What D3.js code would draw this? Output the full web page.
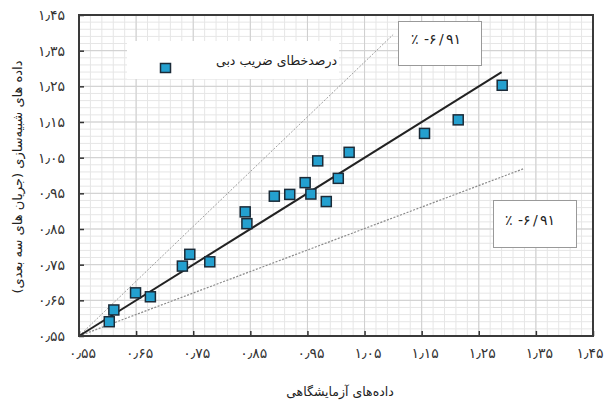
<!DOCTYPE html>
<html><head><meta charset="utf-8">
<script src="https://cdn.jsdelivr.net/npm/d3@7"></script>
<style>
body{margin:0;background:#fff;}
svg{display:block;}
text{font-family:"DejaVu Sans",sans-serif;}
</style></head>
<body><svg id="c" width="608" height="405"></svg>
<script>
// ---- data ----
const labData = [0.603,0.611,0.649,0.675,0.731,0.744,0.779,0.841,0.844,0.892,0.919,0.946,0.956,0.968,0.983,1.004,1.023,1.155,1.214,1.291];
const simData = [0.590,0.623,0.671,0.660,0.746,0.779,0.758,0.898,0.865,0.942,0.947,0.980,0.948,1.041,0.927,0.992,1.065,1.118,1.156,1.253];
const tickValues = [0.55,0.65,0.75,0.85,0.95,1.05,1.15,1.25,1.35,1.45];
const tickLabels = ["۰٫۵۵","۰٫۶۵","۰٫۷۵","۰٫۸۵","۰٫۹۵","۱٫۰۵","۱٫۱۵","۱٫۲۵","۱٫۳۵","۱٫۴۵"];
const fitLine   = [[0.55,0.55],[1.29,1.29]];
const upperLine = [[0.55,0.55],[1.10,1.395]];
const lowerLine = [[0.55,0.55],[1.33,1.02]];
const legendLabel = "درصدخطای ضریب دبی";
const errParts = ["٪", "-۶", "/", "۹۱"];   // shown left to right
const xTitle = "داده‌های  آزمایشگاهی";
const yTitle = "داده های شبیه‌سازی (جریان های سه بعدی)";

const svg = d3.select("#c");
const L=79,R=593,T=15,B=336;
const x = d3.scaleLinear().domain([0.55,1.45]).range([L,R]);
const y = d3.scaleLinear().domain([0.55,1.45]).range([B,T]);

// minor grid
const minor = d3.range(0.55,1.4501,0.02);
const g = svg.append("g");
g.selectAll(".mx").data(minor).enter().append("line")
 .attr("x1",d=>x(d)).attr("x2",d=>x(d)).attr("y1",T).attr("y2",B)
 .attr("stroke","#e6e6e6").attr("stroke-width",1);
g.selectAll(".my").data(minor).enter().append("line")
 .attr("y1",d=>y(d)).attr("y2",d=>y(d)).attr("x1",L).attr("x2",R)
 .attr("stroke","#e6e6e6").attr("stroke-width",1);
// major grid
g.selectAll(".Mx").data(tickValues).enter().append("line")
 .attr("x1",d=>x(d)).attr("x2",d=>x(d)).attr("y1",T).attr("y2",B)
 .attr("stroke","#cfcfcf").attr("stroke-width",1);
g.selectAll(".My").data(tickValues).enter().append("line")
 .attr("y1",d=>y(d)).attr("y2",d=>y(d)).attr("x1",L).attr("x2",R)
 .attr("stroke","#cfcfcf").attr("stroke-width",1);

// legend box background
svg.append("rect").attr("x",127).attr("y",41).attr("width",212).attr("height",38).attr("fill","#fff");

// lines
const line = d3.line().x(d=>x(d[0])).y(d=>y(d[1]));
svg.append("path").attr("d",line(upperLine)).attr("fill","none")
 .attr("stroke","#a0a0a0").attr("stroke-width",1).attr("stroke-dasharray","2,1.5");
svg.append("path").attr("d",line(lowerLine)).attr("fill","none")
 .attr("stroke","#8a8a8a").attr("stroke-width",1.2).attr("stroke-dasharray","2,1.5");
svg.append("path").attr("d",line(fitLine)).attr("fill","none")
 .attr("stroke","#222").attr("stroke-width",2);

// axes (ticks inward)
const xAxis = d3.axisBottom(x).tickValues(tickValues).tickSize(-5).tickFormat((d,i)=>tickLabels[i]);
const yAxis = d3.axisLeft(y).tickValues(tickValues).tickSize(-5).tickFormat((d,i)=>tickLabels[i]);
const gx = svg.append("g").attr("transform",`translate(0,${B})`).call(xAxis);
const gy = svg.append("g").attr("transform",`translate(${L},0)`).call(yAxis);
[gx,gy].forEach(a=>{
  a.select(".domain").remove();
  a.selectAll(".tick line").attr("stroke","#333").attr("stroke-width",1.5);
  a.selectAll("text").attr("font-size",14).attr("fill","#333").style("font-family","DejaVu Sans");
});
gx.selectAll("text").attr("y",12).attr("dy","0.71em").attr("dx",3);
gx.selectAll("text").filter((d,i)=>i===tickValues.length-1).attr("text-anchor","end").attr("dx",10);
gy.selectAll("text").attr("x",-14).attr("dy","0.32em");

// frame
svg.append("rect").attr("x",L).attr("y",T).attr("width",R-L).attr("height",B-T)
 .attr("fill","none").attr("stroke","#3a3a3a").attr("stroke-width",2);

// points
svg.selectAll(".pt").data(labData).enter().append("rect")
 .attr("x",(d,i)=>x(d)-5).attr("y",(d,i)=>y(simData[i])-5)
 .attr("width",10).attr("height",10)
 .attr("fill","#24a0cf").attr("stroke","#1b2b38").attr("stroke-width",1.5);

// legend
svg.append("rect").attr("x",160.5).attr("y",63.5).attr("width",10).attr("height",9)
 .attr("fill","#24a0cf").attr("stroke","#1b2b38").attr("stroke-width",1.5);
svg.append("text").attr("x",337).attr("y",65).attr("text-anchor","start").attr("direction","rtl")
 .attr("font-size",12.5).attr("fill","#222").text(legendLabel);

// annotation boxes
const offs = [0, 13, 28, 35];
[[398.5,21.5,83,44,411,44],[493.5,200.5,83,47,505,225]].forEach(b=>{
  svg.append("rect").attr("x",b[0]).attr("y",b[1]).attr("width",b[2]).attr("height",b[3])
   .attr("fill","#fff").attr("stroke","#999").attr("stroke-width",1);
  errParts.forEach((p,i)=>{
    svg.append("text").attr("x",b[4]+offs[i]).attr("y",b[5]).attr("text-anchor","start")
     .attr("font-size",14).attr("fill","#222").text(p);
  });
});

// axis titles
svg.append("text").attr("x",340).attr("y",396).attr("text-anchor","middle").attr("direction","rtl")
 .attr("font-size",12.5).attr("fill","#222").text(xTitle);
svg.append("text").attr("transform","translate(22,177) rotate(-90)").attr("text-anchor","middle")
 .attr("direction","rtl").attr("font-size",13).attr("fill","#222").text(yTitle);
</script></body></html>
